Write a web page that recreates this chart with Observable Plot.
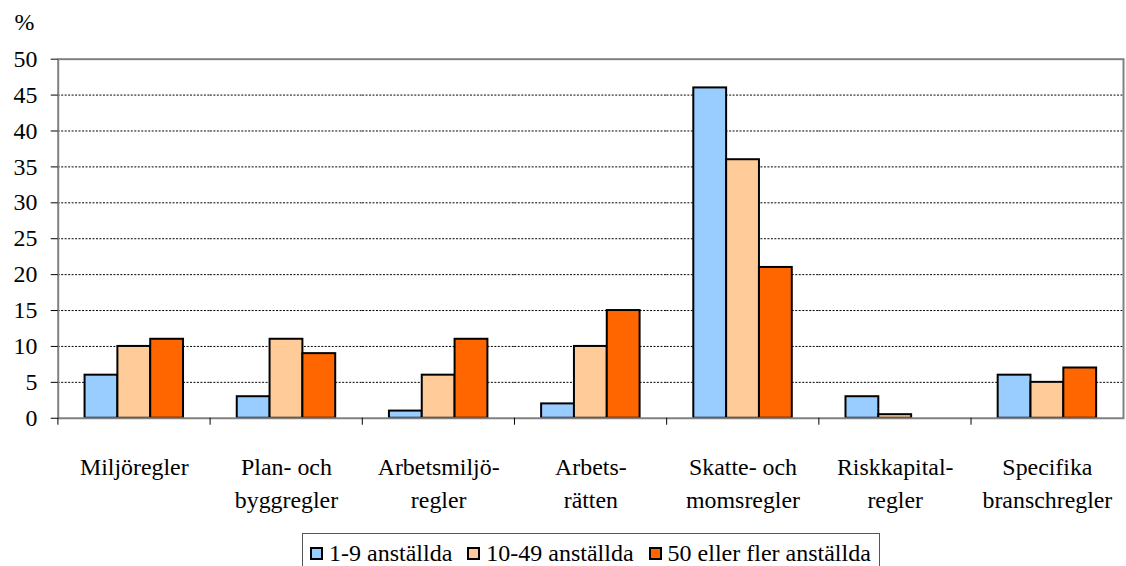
<!DOCTYPE html>
<html>
<head>
<meta charset="utf-8">
<script src="https://cdn.jsdelivr.net/npm/d3@7"></script>
<script src="https://cdn.jsdelivr.net/npm/@observablehq/plot@0.6"></script>
<style>
  body { margin: 0; width: 1126px; height: 566px; overflow: hidden; background: #fff; position: relative; color: #000;
         font-family: 'Times New Roman', Tinos, 'Liberation Serif', FreeSerif, serif; }
  #title { position: absolute; top: -14px; left: 0; width: 1126px; text-align: center; font-size: 24px; line-height: 28px; }
  #chart { position: absolute; top: 0; left: 0; }
  #legend { position: absolute; left: 302px; top: 533px; border: 1px solid #555; background: #fff;
            display: flex; align-items: center; padding: 5px 8px 8px 7px;
            font-size: 24px; line-height: 28px; white-space: nowrap; }
  .item { display: flex; align-items: center; margin-right: 15px; }
  .item:last-child { margin-right: 0; }
  .sw { display: inline-block; width: 9px; height: 9px; border: 2px solid #000; margin-right: 6px; }
  svg text, svg tspan { font-family: 'Times New Roman', Tinos, 'Liberation Serif', FreeSerif, serif; }
</style>
</head>
<body>
<div id="title" style="font-family:'Times New Roman', serif">mars/april 2023</div>
<div id="chart"></div>
<div id="legend" style="font-family:'Times New Roman', serif"></div>
<script>
const categories = ["Miljöregler", "Plan- och byggregler", "Arbetsmiljöregler", "Arbetsrätten",
  "Skatte- och momsregler", "Riskkapitalregler", "Specifika branschregler"];
const categoryLabels = ["Miljöregler", "Plan- och\nbyggregler", "Arbetsmiljö-\nregler", "Arbets-\nrätten",
  "Skatte- och\nmomsregler", "Riskkapital-\nregler", "Specifika\nbranschregler"];
const seriesNames = ["1-9 anställda", "10-49 anställda", "50 eller fler anställda"];
const small = [6, 3, 1, 2, 46, 3, 6];
const medium = [10, 11, 6, 10, 36, 0.5, 5];
const large = [11, 9, 11, 15, 21, 0, 7];
const seriesColors = ["#99CCFF", "#FFCC99", "#FF6600"];
const yTicks = [0, 5, 10, 15, 20, 25, 30, 35, 40, 45, 50];
const gridTicks = [5, 10, 15, 20, 25, 30, 35, 40, 45];
const yUnit = "%";

const seriesValues = [small, medium, large];
const data = [];
categories.forEach((c, i) => seriesNames.forEach((s, j) => {
  const v = seriesValues[j][i];
  if (v > 0) data.push({category: c, series: s, value: v});
}));
const labelOf = new Map(categories.map((c, i) => [c, categoryLabels[i]]));

const W = 1132, mL = 56, mR = 1, mT = 59;
const halfStep = (W - mL - mR) / categories.length / 2;
const serif = "Times New Roman, serif";

const chart = Plot.plot({
  width: W, height: 528,
  marginLeft: mL, marginRight: mR, marginTop: mT, marginBottom: 108,
  style: {fontSize: "24px", background: "#fff"},
  fx: {domain: categories, padding: 0, label: null},
  x: {domain: seriesNames, paddingInner: 0, paddingOuter: 0.76, axis: null},
  y: {domain: [0, 50], label: null},
  color: {domain: seriesNames, range: seriesColors},
  marks: [
    Plot.gridY(gridTicks, {stroke: "#000", strokeOpacity: 1, strokeDasharray: "2,1.5", strokeWidth: 1}),
    Plot.barY(data, {fx: "category", x: "series", y: "value", fill: "series", stroke: "#000", strokeWidth: 2}),
    Plot.frame({facet: "super", stroke: "#808080", strokeWidth: 2}),
    Plot.axisY({ticks: yTicks, tickSize: 7, tickPadding: 14, fontSize: 24, fontFamily: serif, label: null}),
    Plot.text([yUnit], {facet: "super", frameAnchor: "top-left", text: d => d, textAnchor: "start",
                        lineAnchor: "bottom", dx: -44, dy: -29, fontSize: 24, fontFamily: serif, fill: "#000"}),
    Plot.axisFx({anchor: "bottom", tickSize: 0, tickPadding: 33, fontSize: 24, fontFamily: serif, lineHeight: 1.4,
                 tickFormat: d => labelOf.get(d), label: null}),
    Plot.axisFx({anchor: "bottom", text: null, tickSize: 7, dx: -halfStep, stroke: "#000", label: null})
  ]
});
chart.setAttribute("font-family", serif);
document.getElementById("chart").appendChild(chart);

const legend = document.getElementById("legend");
seriesNames.forEach((s, i) => {
  const it = document.createElement("div");
  it.className = "item";
  const sw = document.createElement("span");
  sw.className = "sw";
  sw.style.background = seriesColors[i];
  it.appendChild(sw);
  it.appendChild(document.createTextNode(s));
  legend.appendChild(it);
});
</script>
</body>
</html>
